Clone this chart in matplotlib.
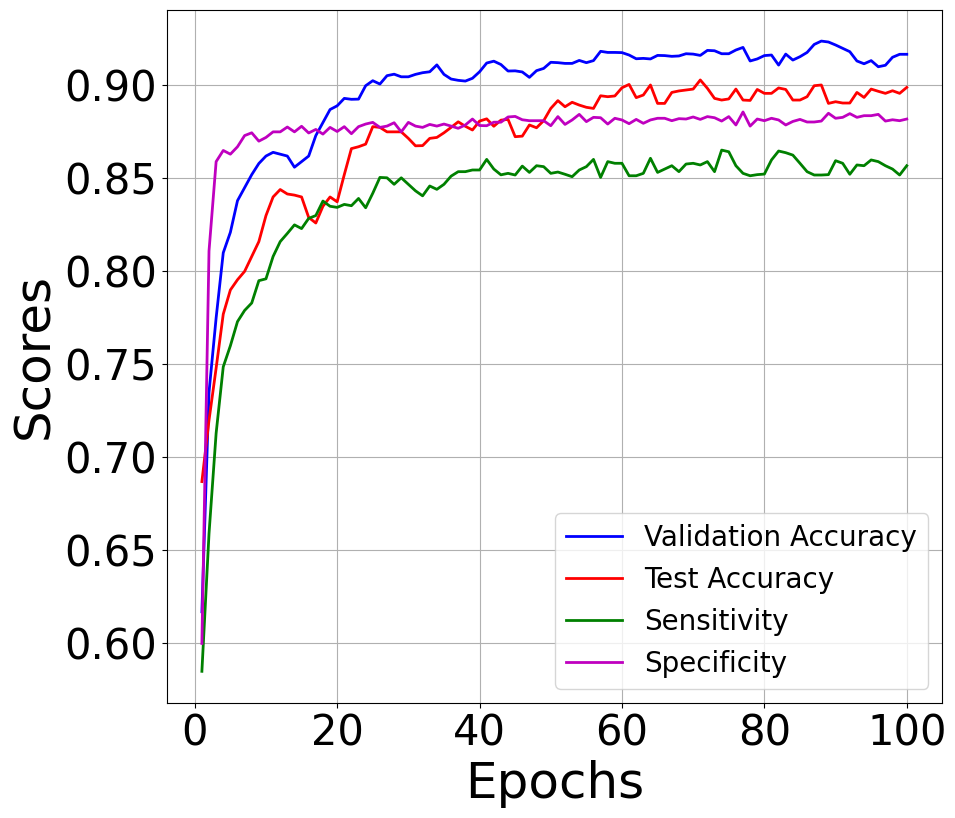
import matplotlib
matplotlib.use("Agg")
import matplotlib.pyplot as plt
import numpy as np

epochs = list(range(1, 101))

validation_accuracy = [
    0.617, 0.735, 0.775, 0.810, 0.821, 0.838, 0.845, 0.852, 0.858, 0.862,
    0.864, 0.863, 0.862, 0.856, 0.859, 0.862, 0.873, 0.880, 0.887, 0.889,
    0.893, 0.8925, 0.8926, 0.8998, 0.9025, 0.9007, 0.9052, 0.906, 0.9046, 0.9046,
    0.9059, 0.9068, 0.9073, 0.911, 0.9059, 0.9034, 0.9027, 0.9023, 0.9038, 0.9073,
    0.912, 0.913, 0.9112, 0.9077, 0.9078, 0.9072, 0.9043, 0.9079, 0.9091, 0.9124,
    0.9122, 0.9118, 0.9118, 0.9134, 0.9122, 0.9133, 0.9183, 0.9177, 0.9177, 0.9176,
    0.9163, 0.9143, 0.9145, 0.9142, 0.9161, 0.916, 0.9156, 0.9158, 0.917, 0.9168,
    0.9161, 0.9188, 0.9186, 0.917, 0.917, 0.919, 0.9204, 0.9131, 0.9142, 0.916,
    0.9163, 0.9109, 0.9168, 0.9136, 0.9154, 0.9177, 0.922, 0.9238, 0.9233, 0.9217,
    0.9199, 0.9181, 0.9131, 0.9116, 0.9133, 0.91, 0.9108, 0.9151, 0.9167, 0.9167,
]

test_accuracy = [
    0.687, 0.720, 0.748, 0.777, 0.790, 0.7955, 0.800, 0.808, 0.816, 0.830,
    0.840, 0.844, 0.8416, 0.841, 0.840, 0.829, 0.826, 0.835, 0.840, 0.8374,
    0.852, 0.866, 0.867, 0.8684, 0.8778, 0.8774, 0.875, 0.875, 0.875, 0.8715,
    0.8675, 0.8676, 0.8715, 0.872, 0.8745, 0.8774, 0.8804, 0.878, 0.876, 0.8808,
    0.882, 0.878, 0.8813, 0.8817, 0.8724, 0.8727, 0.8787, 0.8772, 0.881, 0.8876,
    0.8918, 0.8885, 0.8909, 0.8894, 0.8882, 0.8876, 0.8944, 0.8939, 0.8943, 0.8987,
    0.9005, 0.8934, 0.8948, 0.9002, 0.8903, 0.8903, 0.8962, 0.897, 0.8975, 0.898,
    0.9029, 0.8984, 0.893, 0.8921, 0.8927, 0.898, 0.8921, 0.8919, 0.8978, 0.8957,
    0.8957, 0.8986, 0.8978, 0.8921, 0.8921, 0.8939, 0.8998, 0.9002, 0.8903, 0.8912,
    0.8905, 0.8905, 0.8962, 0.8935, 0.898, 0.8968, 0.8957, 0.8971, 0.8957, 0.8989,
]

sensitivity = [
    0.585, 0.659, 0.713, 0.7487, 0.760, 0.773, 0.779, 0.783, 0.795, 0.796,
    0.808, 0.816, 0.8204, 0.825, 0.823, 0.8285, 0.830, 0.8378, 0.835, 0.8344,
    0.836, 0.8353, 0.8392, 0.8342, 0.842, 0.8505, 0.8503, 0.8468, 0.8503, 0.8468,
    0.8433, 0.8406, 0.8459, 0.8441, 0.8468, 0.8512, 0.8536, 0.8536, 0.8545, 0.8545,
    0.8602, 0.855, 0.8519, 0.8527, 0.8518, 0.8566, 0.8532, 0.8568, 0.8563, 0.8527,
    0.8534, 0.8522, 0.8509, 0.8545, 0.8563, 0.8602, 0.8505, 0.859, 0.8581, 0.8581,
    0.8514, 0.8514, 0.8527, 0.8608, 0.8532, 0.855, 0.8568, 0.8536, 0.8577, 0.8581,
    0.8572, 0.859, 0.8536, 0.8652, 0.8643, 0.8568, 0.8527, 0.8514, 0.852, 0.8523,
    0.8599, 0.8647, 0.8638, 0.8625, 0.8581, 0.8536, 0.8518, 0.8518, 0.852, 0.8595,
    0.8581, 0.8522, 0.8572, 0.8568, 0.8599, 0.859, 0.8568, 0.855, 0.8518, 0.8568,
]

specificity = [
    0.600, 0.811, 0.859, 0.865, 0.863, 0.867, 0.873, 0.8745, 0.870, 0.872,
    0.875, 0.875, 0.8776, 0.875, 0.878, 0.8744, 0.8763, 0.8738, 0.8774, 0.8752,
    0.8778, 0.874, 0.8778, 0.8792, 0.8801, 0.8774, 0.8781, 0.8799, 0.875, 0.8801,
    0.8781, 0.8774, 0.879, 0.8781, 0.8792, 0.8781, 0.8769, 0.8787, 0.8819, 0.8784,
    0.8783, 0.8802, 0.8802, 0.883, 0.8833, 0.8815, 0.881, 0.881, 0.881, 0.8783,
    0.8832, 0.879, 0.8814, 0.8844, 0.8805, 0.8828, 0.8826, 0.8792, 0.8823, 0.8814,
    0.8794, 0.8817, 0.8796, 0.8814, 0.8823, 0.8823, 0.881, 0.8821, 0.8819, 0.883,
    0.8817, 0.8832, 0.8826, 0.8808, 0.8832, 0.8787, 0.8857, 0.8781, 0.8819, 0.881,
    0.8823, 0.8814, 0.8787, 0.8806, 0.8817, 0.8803, 0.8803, 0.8808, 0.885, 0.8823,
    0.8828, 0.8848, 0.8828, 0.8837, 0.8837, 0.8844, 0.8808, 0.8815, 0.881, 0.8819,
]

series_labels = ["Validation Accuracy", "Test Accuracy", "Sensitivity", "Specificity"]
series_colors = ["b", "r", "g", "m"]

fig = plt.figure(figsize=(9.55, 8.18), dpi=100)
ax = fig.add_subplot(111)
fig.subplots_adjust(left=0.1745, right=0.9864, bottom=0.1408, top=0.9883)

for vals, lab, col in zip([validation_accuracy, test_accuracy, sensitivity, specificity],
                          series_labels, series_colors):
    ax.plot(epochs, vals, color=col, linewidth=2, label=lab)

ax.set_xlabel("Epochs", fontsize=36)
ax.set_ylabel("Scores", fontsize=36)
ax.tick_params(axis="both", labelsize=30)
ax.set_xticks([0, 20, 40, 60, 80, 100])
ax.set_yticks([0.60, 0.65, 0.70, 0.75, 0.80, 0.85, 0.90])
ax.yaxis.set_major_formatter(matplotlib.ticker.FormatStrFormatter("%.2f"))
ax.grid(True)
ax.legend(loc="lower right", fontsize=20)

fig.savefig("out.png", dpi=100)
